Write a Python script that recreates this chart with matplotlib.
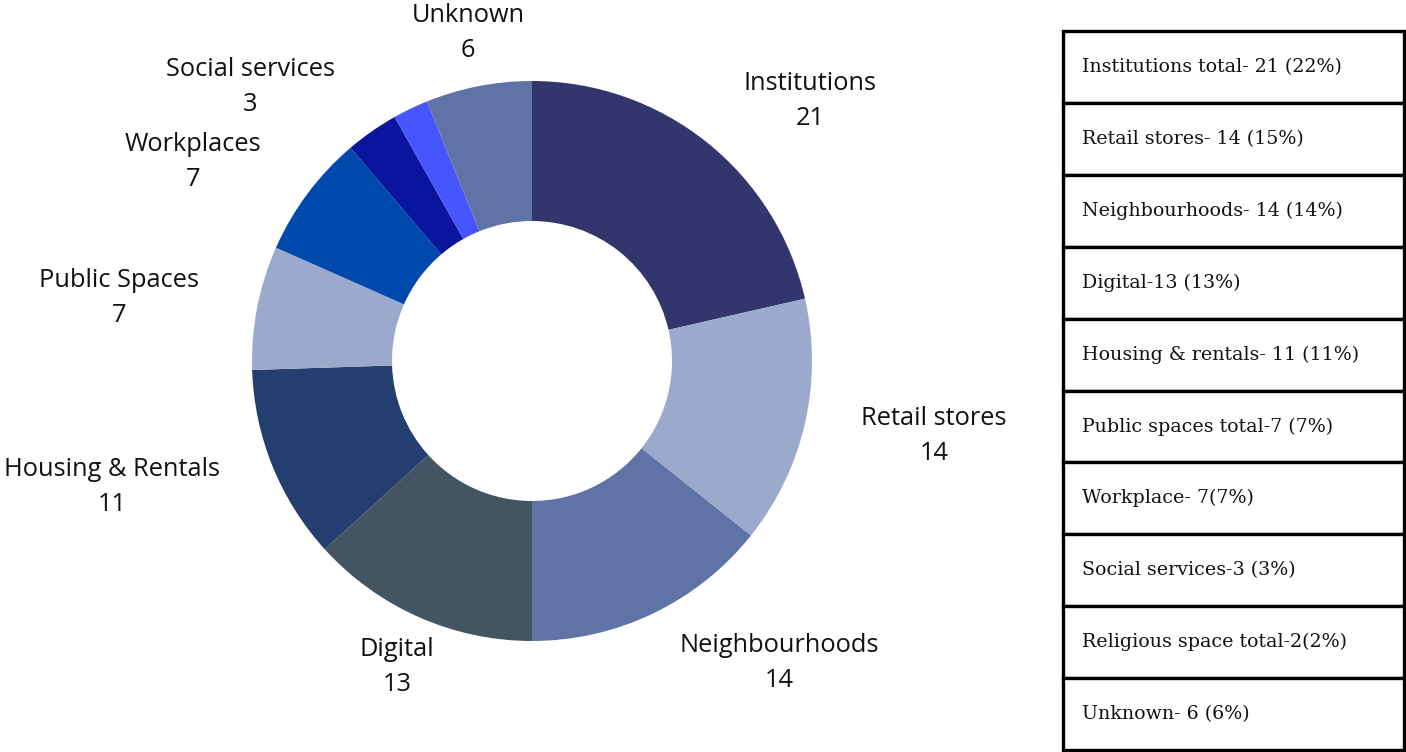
import matplotlib
matplotlib.use("Agg")
import matplotlib.pyplot as plt
from matplotlib.patches import Rectangle

# Data
categories = ["Institutions", "Retail stores", "Neighbourhoods", "Digital",
              "Housing & Rentals", "Public Spaces", "Workplaces",
              "Social services", "Religious space", "Unknown"]
counts = [21, 14, 14, 13, 11, 7, 7, 3, 2, 6]
colors = ["#32366C", "#9BAACC", "#6073A6", "#425561", "#243E70",
          "#9BAACC", "#0049AC", "#0A159E", "#4755FF", "#6073A6"]
show_label = [True, True, True, True, True, True, True, True, False, True]

table_rows = ["Institutions total- 21 (22%)", "Retail stores- 14 (15%)",
              "Neighbourhoods- 14 (14%)", "Digital-13 (13%)",
              "Housing & rentals- 11 (11%)", "Public spaces total-7 (7%)",
              "Workplace- 7(7%)", "Social services-3 (3%)",
              "Religious space total-2(2%)", "Unknown- 6 (6%)"]

W, H = 1406, 752
fig = plt.figure(figsize=(W / 100, H / 100), dpi=100)
ax = fig.add_axes([0, 0, 1, 1])

cx, cy, R = 532, H - 361, 280
ax.pie(counts, colors=colors, startangle=90, counterclock=False,
       center=(cx, cy), radius=R, wedgeprops=dict(width=R * 0.5, linewidth=0),
       frame=True)
ax.set_xlim(0, W)
ax.set_ylim(0, H)
ax.set_aspect("equal")
ax.axis("off")

# Outer label positions (pixel layout, top-left origin)
label_pos = [(810, 101), (934, 436), (779, 663), (397, 667), (112, 487),
             (119, 298), (193, 162), (250, 87), None, (468, 33)]
lab_font = ["Open Sans", "DejaVu Sans"]
for name, val, pos, show in zip(categories, counts, label_pos, show_label):
    if not show or pos is None:
        continue
    x, y = pos
    ax.text(x, H - y, f"{name}\n{val}", ha="center", va="center",
            fontsize=18.3, family=lab_font, color="#111111",
            linespacing=1.48)

# Summary table on the right
tx0, tx1 = 1063, 1404
ty0, ty1 = 31, 750
n = len(table_rows)
rh = (ty1 - ty0) / n
for i, txt in enumerate(table_rows):
    top = ty0 + i * rh
    ax.add_patch(Rectangle((tx0, H - top - rh), tx1 - tx0, rh,
                           facecolor="white", edgecolor="black",
                           linewidth=2.4, zorder=3))
    ax.text(tx0 + 19, H - (top + rh / 2), txt, ha="left", va="center",
            fontsize=13.7, family=["DejaVu Serif"], color="#111111",
            zorder=4)

fig.savefig("out.png", dpi=100, facecolor="white")
